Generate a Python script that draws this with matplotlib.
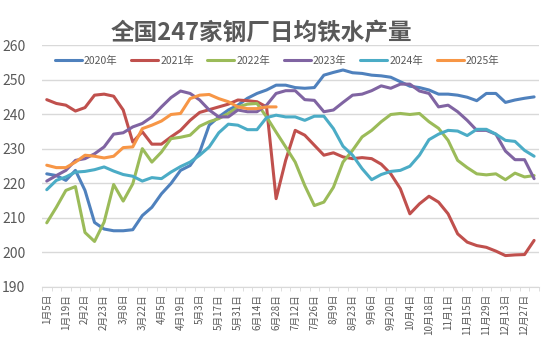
import numpy as np
import matplotlib
matplotlib.use('Agg')
import matplotlib.pyplot as plt

plt.rcParams['font.family'] = ['Noto Sans CJK SC', 'DejaVu Sans']

# 周度数据, 52 周
tick_labels = ['1月5日', '1月19日', '2月2日', '2月23日', '3月8日', '3月22日', '4月5日',
               '4月19日', '5月3日', '5月17日', '5月31日', '6月14日', '6月28日', '7月12日',
               '7月26日', '8月9日', '8月23日', '9月6日', '9月20日', '10月4日', '10月18日',
               '11月1日', '11月15日', '11月29日', '12月13日', '12月27日']

y2020 = [222.8, 222.3, 220.9, 223.8, 218.0, 208.7, 206.8, 206.3, 206.3, 206.6,
         210.7, 213.1, 217.0, 220.0, 223.8, 225.2, 229.1, 236.9, 239.3, 241.3,
         242.7, 244.7, 246.1, 247.1, 248.5, 248.5, 247.8, 247.6, 247.8, 251.4,
         252.2, 252.9, 252.1, 251.9, 251.4, 251.2, 250.8, 249.5, 248.2, 247.8,
         247.1, 245.9, 245.9, 245.6, 245.0, 244.0, 246.1, 246.1, 243.5, 244.2,
         244.7, 245.1]
y2021 = [244.3, 243.2, 242.7, 241.0, 242.0, 245.6, 245.9, 245.3, 241.3, 232.0,
         235.0, 231.4, 231.4, 233.5, 235.4, 238.3, 240.6, 241.4, 242.2, 243.0,
         244.2, 244.0, 243.7, 242.2, 215.6, 226.7, 235.4, 234.0, 231.1, 228.2,
         228.9, 227.7, 227.2, 227.5, 227.2, 225.6, 222.8, 218.5, 211.2, 214.1,
         216.3, 214.6, 211.2, 205.4, 203.0, 202.0, 201.5, 200.4, 199.1, 199.3,
         199.4, 203.5]
y2022 = [208.6, 213.1, 218.0, 219.1, 205.8, 203.2, 208.8, 219.7, 214.9, 219.9,
         230.1, 226.2, 229.1, 233.0, 233.4, 234.0, 236.6, 237.9, 238.8, 240.3,
         242.2, 243.0, 243.2, 239.3, 234.9, 230.6, 226.2, 219.4, 213.6, 214.6,
         218.9, 226.2, 229.6, 233.5, 235.4, 237.9, 240.0, 240.3, 240.0, 240.3,
         237.9, 236.0, 232.5, 226.7, 224.6, 222.8, 222.5, 222.8, 221.1, 223.0,
         221.9, 222.3]
y2023 = [220.7, 222.3, 223.8, 226.7, 227.2, 228.6, 230.6, 234.3, 234.7, 236.4,
         237.4, 239.3, 242.2, 244.9, 246.8, 246.1, 244.2, 241.3, 239.3, 239.3,
         241.3, 240.8, 240.8, 242.7, 246.1, 246.9, 246.9, 244.3, 244.1, 240.8,
         241.3, 243.5, 245.6, 245.9, 246.9, 248.3, 247.6, 248.8, 248.8, 246.8,
         246.1, 242.2, 242.7, 240.8, 238.3, 235.4, 235.4, 234.3, 229.4, 226.9,
         226.9, 221.4]
y2024 = [218.2, 220.9, 221.9, 223.3, 223.5, 224.0, 224.8, 223.6, 222.6, 222.1,
         220.7, 221.7, 221.4, 223.3, 224.9, 226.2, 228.2, 230.6, 234.7, 237.2,
         236.9, 235.6, 235.6, 239.1, 239.8, 239.3, 239.3, 238.3, 239.5, 239.5,
         235.9, 230.8, 228.2, 224.3, 221.1, 222.6, 223.5, 223.8, 225.0, 228.2,
         232.7, 234.3, 235.4, 235.2, 233.9, 235.7, 235.7, 234.3, 232.5, 232.2,
         229.6, 227.9]
y2025 = [225.3, 224.6, 224.6, 226.2, 228.2, 227.9, 227.4, 227.9, 230.4, 230.6,
         235.9, 236.9, 238.1, 240.0, 240.3, 244.6, 245.6, 245.8, 244.6, 243.7,
         242.2, 241.7, 241.7, 242.2, 242.2]

series = [('2020年', y2020, '#4F81BD'), ('2021年', y2021, '#C0504D'),
          ('2022年', y2022, '#9BBB59'), ('2023年', y2023, '#8064A2'),
          ('2024年', y2024, '#4BACC6'), ('2025年', y2025, '#F79646')]

fig = plt.figure(figsize=(5.51, 3.54), dpi=100)
ax = fig.add_axes([0.0762, 0.1893, 0.9018, 0.6822])

for name, vals, c in series:
    ax.plot(np.arange(len(vals)), vals, color=c, lw=2.2, label=name,
            solid_joinstyle='round', solid_capstyle='round')

ax.set_xlim(-0.5, 51.5)
ax.set_ylim(190, 260)
ax.set_yticks(np.arange(190, 261, 10))
ax.yaxis.grid(True, color='#D9D9D9', lw=1)
ax.set_axisbelow(True)
for s in ['top', 'right', 'left']:
    ax.spines[s].set_visible(False)
ax.spines['bottom'].set_color('#D9D9D9')

ax.set_xticks(np.arange(0, 52, 2))
ax.set_xticklabels(tick_labels, rotation=90, fontsize=7, color='#595959')
ax.set_xticks(np.arange(-0.5, 52, 1), minor=True)
ax.tick_params(axis='x', which='major', length=0, pad=5)
ax.tick_params(axis='x', which='minor', length=3, color='#D9D9D9')
ax.tick_params(axis='y', length=0, pad=12, labelsize=10, labelcolor='#595959')

ax.legend(loc='center', bbox_to_anchor=(0.473, 0.936), ncol=6, frameon=False,
          fontsize=7.5, labelcolor='#595959', handlelength=2.6,
          handletextpad=0.2, columnspacing=1.3)

fig.suptitle('全国247家钢厂日均铁水产量', x=0.475, y=0.94, fontsize=17,
             fontweight='bold', color='#595959')

fig.savefig('out.png', dpi=100)
